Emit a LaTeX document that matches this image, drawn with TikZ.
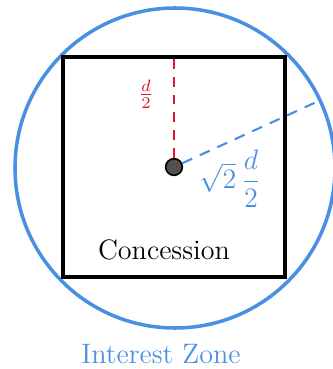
\documentclass[tikz,border=0pt]{standalone}
\usepackage{amsmath}
\usepackage{xcolor}
\definecolor{ZoneBlue}{RGB}{74,144,226}
\definecolor{HalfRed}{RGB}{214,24,52}
\definecolor{DotGray}{RGB}{80,80,80}
\usepackage{tikz}
\usetikzlibrary{positioning, calc}
\tikzset{
  % Concession square
  sqbox/.style={
    rectangle, draw=black, line width=1.7pt,
    minimum width=3.33cm, minimum height=3.31cm,
    inner sep=0pt, outer sep=0pt
  },
  % Interest zone circle
  zonecirc/.style={
    circle, draw=ZoneBlue, line width=1.5pt,
    minimum size=4.8cm, inner sep=0pt, outer sep=0pt
  },
  % Center point
  centerdot/.style={
    circle, draw=black, fill=DotGray, line width=0.7pt,
    minimum size=0.25cm, inner sep=0pt
  },
  % Radius lines
  halfline/.style={HalfRed, line width=0.9pt, dash pattern=on 4.2pt off 3.4pt},
  diagline/.style={ZoneBlue, line width=0.9pt, dash pattern=on 4.6pt off 3.6pt},
  % Labels
  halflbl/.style={text=HalfRed, font=\normalsize, inner sep=1pt},
  diaglbl/.style={text=ZoneBlue, font=\large, inner sep=1pt},
  namelbl/.style={font=\large, inner sep=1pt},
}

\begin{document}
\begin{tikzpicture}[x=0.015cm, y=-0.015cm]

  \useasboundingbox (0,0) rectangle (332,369);

  %% ---- SHAPES ----
  \node[zonecirc] (zone) at (175,168) {};
  \node[sqbox] (sq) at (174,167) {};
  \node[centerdot] (ctr) at (174,167) {};

  %% ---- RADII ----
  \draw[halfline] (ctr.north) -- (sq.north);
  \draw[diagline] (ctr) -- (zone.25);

  %% ---- LABELS ----
  \node[halflbl] (half) at (146,94) {$\frac{d}{2}$};
  \node[diaglbl] (diag) at (230,179) {$\sqrt{2}\,\dfrac{d}{2}$};
  \node[namelbl] (conlbl) at (164,250) {Concession};
  \node[namelbl, text=ZoneBlue] (zonelbl) at (161,354) {Interest Zone};

\end{tikzpicture}
\end{document}
